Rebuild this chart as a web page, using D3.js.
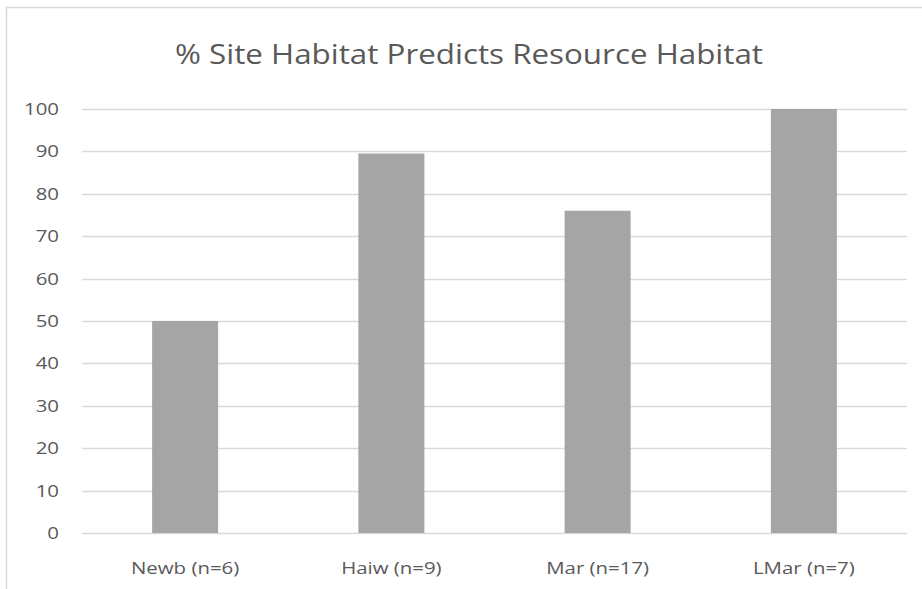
<!DOCTYPE html>
<html>
<head>
<meta charset="utf-8">
<script src="https://cdn.jsdelivr.net/npm/d3@7"></script>
<style>
  html, body { margin: 0; padding: 0; background: #fff; }
  text { font-family: "Open Sans", "Liberation Sans", sans-serif; fill: #595959; }
</style>
</head>
<body>
<script>
// Share of sites whose habitat predicts resource habitat, per group
const categories = ["Newb (n=6)", "Haiw (n=9)", "Mar (n=17)", "LMar (n=7)"];
const values = [50, 89.5, 76, 100];
const yTicks = [0, 10, 20, 30, 40, 50, 60, 70, 80, 90, 100];
const title = "% Site Habitat Predicts Resource Habitat";

const W = 922, H = 589;
const margin = { top: 109, right: 15, bottom: 56, left: 82 };
const labelStretch = 1.2; // axis labels are drawn slightly wide

const svg = d3.select("body").append("svg")
  .attr("width", W).attr("height", H);

// chart frame (left and top edges visible)
svg.append("rect")
  .attr("x", 6.5).attr("y", 7.5)
  .attr("width", W + 20).attr("height", H + 20)
  .attr("fill", "none").attr("stroke", "#d9d9d9").attr("stroke-width", 1.5);

const x = d3.scaleBand()
  .domain(categories)
  .range([margin.left, W - margin.right])
  .paddingInner(0.68).paddingOuter(0.34);

const y = d3.scaleLinear()
  .domain([0, 100])
  .range([H - margin.bottom, margin.top]);

function stretch(sel) {
  sel.each(function () {
    const w = this.getComputedTextLength();
    d3.select(this)
      .attr("textLength", w * labelStretch)
      .attr("lengthAdjust", "spacingAndGlyphs");
  });
}

// horizontal gridlines
svg.append("g")
  .selectAll("line")
  .data(yTicks)
  .join("line")
  .attr("x1", margin.left).attr("x2", W - margin.right)
  .attr("y1", d => Math.round(y(d)) + 0.5).attr("y2", d => Math.round(y(d)) + 0.5)
  .attr("stroke", "#d9d9d9").attr("stroke-width", 1.5);

// y axis labels
const yAxis = d3.axisLeft(y).tickValues(yTicks).tickSize(0).tickPadding(0);
svg.append("g")
  .attr("transform", `translate(${margin.left - 23},0)`)
  .call(yAxis)
  .call(g => g.select(".domain").remove())
  .selectAll("text")
  .style("font-size", "17px")
  .attr("fill", "#595959")
  .call(stretch);

// bars
svg.append("g")
  .selectAll("rect")
  .data(categories)
  .join("rect")
  .attr("x", d => x(d))
  .attr("width", x.bandwidth())
  .attr("y", (d, i) => y(values[i]))
  .attr("height", (d, i) => y(0) - y(values[i]))
  .attr("fill", "#a5a5a5");

// x axis labels
const xAxis = d3.axisBottom(x).tickSize(0).tickPadding(0);
svg.append("g")
  .attr("transform", `translate(0,${y(0) + 41})`)
  .call(xAxis)
  .call(g => g.select(".domain").remove())
  .selectAll("text")
  .attr("dy", "0")
  .style("font-size", "17px")
  .attr("fill", "#595959")
  .call(stretch);

// title
svg.append("text")
  .attr("x", 469).attr("y", 64)
  .attr("text-anchor", "middle")
  .style("font-size", "28px")
  .attr("textLength", 588)
  .attr("lengthAdjust", "spacingAndGlyphs")
  .text(title);
</script>
</body>
</html>
